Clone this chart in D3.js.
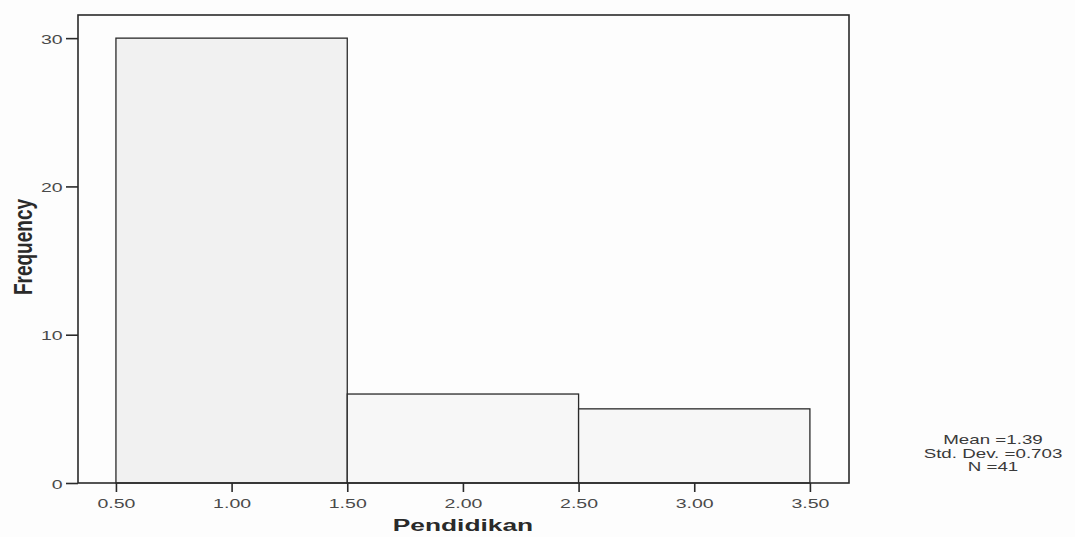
<!DOCTYPE html>
<html><head><meta charset="utf-8">
<script src="https://cdn.jsdelivr.net/npm/d3@7"></script>
<style>body{margin:0;background:#fdfdfd}svg{display:block}text{font-family:"Liberation Sans",Arial,sans-serif}</style>
</head><body><svg id="c" width="1075" height="537"></svg>
<script>
const binStarts = [0.5, 1.5, 2.5];
const binEnds = [1.5, 2.5, 3.5];
const frequencies = [30, 6, 5];
const xTicks = [0.5, 1.0, 1.5, 2.0, 2.5, 3.0, 3.5];
const yTicks = [0, 10, 20, 30];
const statsLines = ["Mean =1.39", "Std. Dev. =0.703", "N =41"];
const xTitle = "Pendidikan";
const yTitle = "Frequency";

const svg = d3.select("#c");
const L = 78, R = 849, T = 15, B = 483;
const SX = 1.5; // horizontal stretch of the source picture's lettering
const x = d3.scaleLinear().domain([0.336, 3.669]).range([L, R]);
const y = d3.scaleLinear().domain([0, 31.56]).range([B, T]);

svg.append("rect").attr("width", 1075).attr("height", 537).attr("fill", "#fdfdfd");

const bins = binStarts.map((s, i) => ({x0: s, x1: binEnds[i], f: frequencies[i]}));
svg.append("g").selectAll("rect").data(bins).join("rect")
  .attr("x", d => x(d.x0)).attr("y", d => y(d.f))
  .attr("width", d => x(d.x1) - x(d.x0)).attr("height", d => y(0) - y(d.f))
  .attr("fill", (d,i) => i === 0 ? "#f1f1f1" : "#f7f7f7").attr("stroke", "#2a2a2a").attr("stroke-width", 1.3);

svg.append("rect").attr("x", L).attr("y", T).attr("width", R - L).attr("height", B - T)
  .attr("fill", "none").attr("stroke", "#2a2a2a").attr("stroke-width", 1.6);

const xa = svg.append("g").attr("transform", `translate(0,${B})`)
  .call(d3.axisBottom(x).tickValues(xTicks).tickFormat(d3.format(".2f")).tickSize(9));
xa.select(".domain").remove();
xa.selectAll("line").attr("stroke", "#2a2a2a").attr("stroke-width", 1.6);
xa.selectAll("text").attr("font-size", 13).attr("fill", "#4a4a4a")
  .attr("font-family", "Liberation Sans, Arial, sans-serif")
  .attr("y", 25).attr("dy", 0).attr("transform", `scale(${SX},1)`);

const ya = svg.append("g").attr("transform", `translate(${L},0)`)
  .call(d3.axisLeft(y).tickValues(yTicks).tickFormat(d3.format("d")).tickSize(12));
ya.select(".domain").remove();
ya.selectAll("line").attr("stroke", "#2a2a2a").attr("stroke-width", 1.6);
ya.selectAll("text").attr("font-size", 13).attr("fill", "#4a4a4a")
  .attr("font-family", "Liberation Sans, Arial, sans-serif")
  .attr("x", -15.3 / SX).attr("dy", 5).attr("transform", `scale(${SX},1)`);

svg.append("text").attr("transform", `translate(${(x(1.5)+x(2.5))/2},531) scale(1.55,1)`).attr("text-anchor", "middle")
  .attr("font-size", 17).attr("font-weight", "bold").attr("fill", "#2a2a2a").text(xTitle);
svg.append("text").attr("transform", `translate(32,247) rotate(-90) scale(1.12,1.55)`).attr("text-anchor", "middle")
  .attr("font-size", 17).attr("font-weight", "bold").attr("fill", "#2a2a2a").text(yTitle);

svg.append("g").selectAll("text").data(statsLines).join("text")
  .attr("transform", (d,i) => `translate(993,${444.3 + i*13.3}) scale(${SX},1)`).attr("text-anchor", "middle")
  .attr("font-size", 12.5).attr("fill", "#3a3a3a").text(d => d);
</script></body></html>
